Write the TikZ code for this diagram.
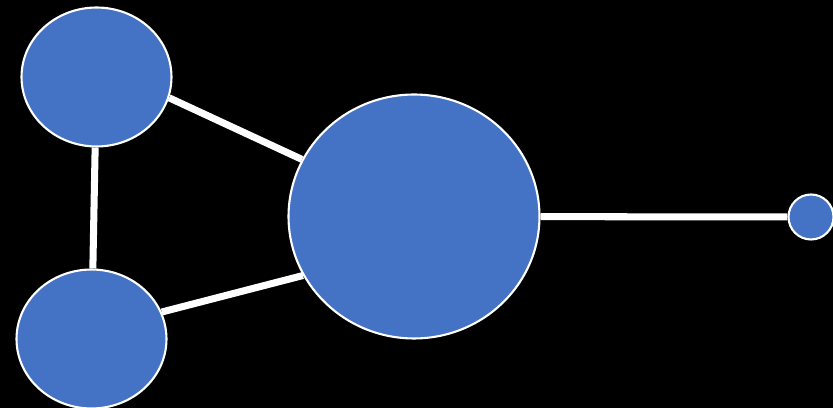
\documentclass[tikz,border=0pt]{standalone}
\usetikzlibrary{shapes.geometric}
\definecolor{nodeblue}{HTML}{4472C4}
\tikzstyle{blob} = [ellipse, fill=nodeblue, draw=white, line width=1.2pt, inner sep=0pt]
\tikzstyle{link} = [draw=white, line width=4pt]
\pgfdeclarelayer{bg}
\pgfdeclarelayer{edges}
\pgfsetlayers{bg,edges,main}

\begin{document}
\begin{tikzpicture}[x=0.02cm, y=-0.02cm]

\begin{pgfonlayer}{bg}
\fill[black] (0,0) rectangle (833,408);
\end{pgfonlayer}
\useasboundingbox (0,0) rectangle (833,408);

% Nodes
\node (upper) [blob, minimum width=3cm, minimum height=2.78cm] at (96.5,77) {};
\node (lower) [blob, minimum width=3cm, minimum height=2.78cm] at (91.5,339) {};
\node (hub) [blob, minimum width=5.02cm, minimum height=4.88cm] at (414,216.5) {};
\node (leaf) [blob, minimum width=0.9cm, minimum height=0.9cm] at (811,217) {};

% Links
\begin{pgfonlayer}{edges}
\draw [link] (upper) -- (lower);
\draw [link] (upper.344) -- (hub.153);
\draw [link] (lower.21) -- (hub.208);
\draw [link] (hub) -- (leaf);
\end{pgfonlayer}

\end{tikzpicture}
\end{document}
